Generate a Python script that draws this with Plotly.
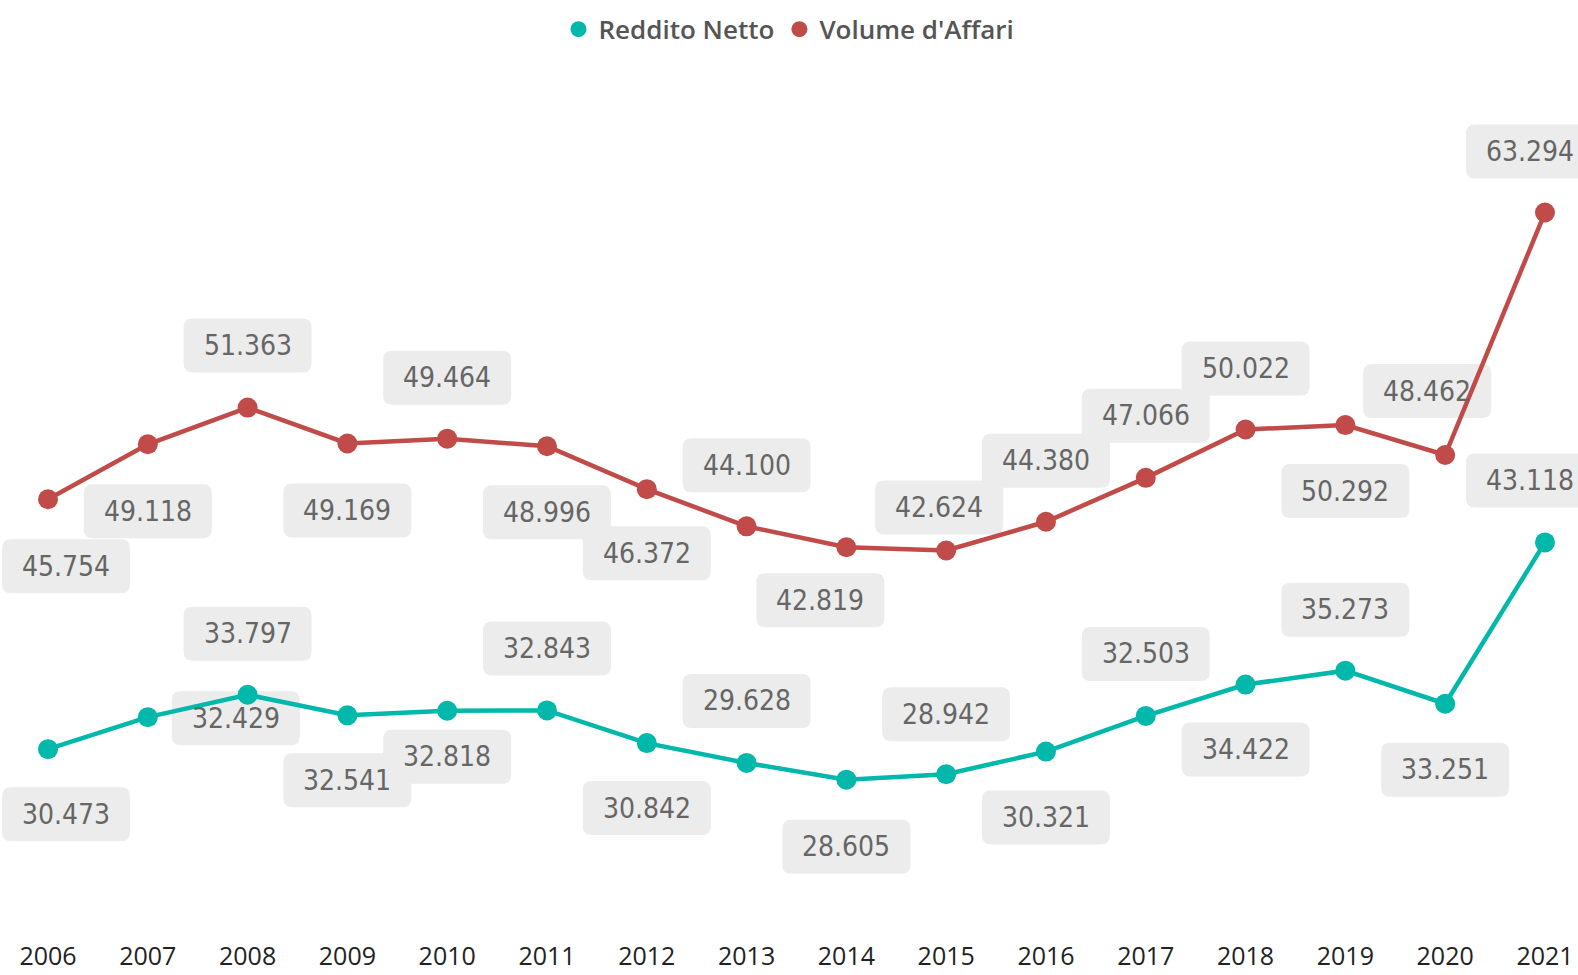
import plotly.graph_objects as go

years = list(range(2006, 2022))
reddito_netto = [30473, 32429, 33797, 32541, 32818, 32843, 30842, 29628, 28605, 28942,
                 30321, 32503, 34422, 35273, 33251, 43118]
volume_affari = [45754, 49118, 51363, 49169, 49464, 48996, 46372, 44100, 42819, 42624,
                 44380, 47066, 50022, 50292, 48462, 63294]

# label offsets in pixels (dx, dy screen-down)
red_off = [(18, 67), (0, 67), (0, -62), (0, 67), (0, -61), (0, 66), (0, 64), (0, -61),
           (-26, 53), (-7, -43), (0, -61), (0, -62), (0, -61), (0, 66), (-18, -64), (-15, -61)]
teal_off = [(18, 65), (88, 1), (0, -61), (0, 65), (0, 46), (0, -62), (0, 65), (0, -62),
            (0, 67), (0, -60), (0, 66), (0, -62), (0, 65), (0, -61), (0, 66), (-15, -62)]

TEAL = "#01B8AA"
RED = "#C04B48"
BOX_W, BOX_H, RAD = 128, 54, 9


def fmt(v):
    return f"{v:,}".replace(",", ".")


def rounded_path(cx, cy, w, h, r):
    x0, x1 = cx - w / 2, cx + w / 2
    y0, y1 = cy - h / 2, cy + h / 2
    return (f"M{x0 + r},{y0} L{x1 - r},{y0} Q{x1},{y0} {x1},{y0 + r} "
            f"L{x1},{y1 - r} Q{x1},{y1} {x1 - r},{y1} L{x0 + r},{y1} "
            f"Q{x0},{y1} {x0},{y1 - r} L{x0},{y0 + r} Q{x0},{y0} {x0 + r},{y0} Z")


fig = go.Figure()
for name, vals, col in [("Reddito Netto", reddito_netto, TEAL), ("Volume d'Affari", volume_affari, RED)]:
    fig.add_trace(go.Scatter(x=years, y=vals, mode="lines+markers", name=name,
                             line=dict(color=col, width=4.5), marker=dict(color=col, size=20),
                             cliponaxis=False, showlegend=False, hoverinfo="skip"))
    fig.add_trace(go.Scatter(x=[None], y=[None], mode="markers", name=name,
                             marker=dict(color=col, size=22), showlegend=True))

annots = []
shapes = []
for vals, offs in [(volume_affari, red_off), (reddito_netto, teal_off)]:
    for yr, v, (dx, dy) in zip(years, vals, offs):
        shapes.append(dict(type="path", xref="x", yref="y", xsizemode="pixel", ysizemode="pixel",
                           xanchor=yr, yanchor=v, path=rounded_path(dx, -dy, BOX_W, BOX_H, RAD),
                           fillcolor="#ECECEC", line=dict(width=0), layer="below"))
        annots.append(dict(x=yr, y=v, xref="x", yref="y", text=fmt(v), showarrow=False,
                           xshift=dx, yshift=-dy, align="center", valign="middle",
                           font=dict(family="Liberation Sans Narrow, DejaVu Sans Condensed, sans-serif",
                                     size=28, color="#666666")))

fig.update_layout(
    width=1578, height=975,
    margin=dict(l=0, r=0, t=60, b=45, autoexpand=False),
    plot_bgcolor="white", paper_bgcolor="white",
    showlegend=True,
    legend=dict(orientation="h", x=0.5, xanchor="center", xref="paper",
                y=0.97, yanchor="middle", yref="container",
                font=dict(family="Open Sans, sans-serif", size=26, color="#555555", weight=600),
                itemwidth=30, tracegroupgap=0, traceorder="normal"),
    xaxis=dict(range=[2005.519, 2021.331], tickmode="array", tickvals=years,
               ticktext=[str(y) for y in years],
               showgrid=False, zeroline=False, showline=False, automargin=False,
               tickfont=dict(family="Open Sans, sans-serif", size=25, color="#222222"),
               ticks="outside", ticklen=4, tickcolor="white"),
    yaxis=dict(range=[19410, 72623], visible=False, showgrid=False, zeroline=False, automargin=False),
    annotations=annots,
    shapes=shapes,
    hovermode=False,
)

fig.write_html("out.html")
